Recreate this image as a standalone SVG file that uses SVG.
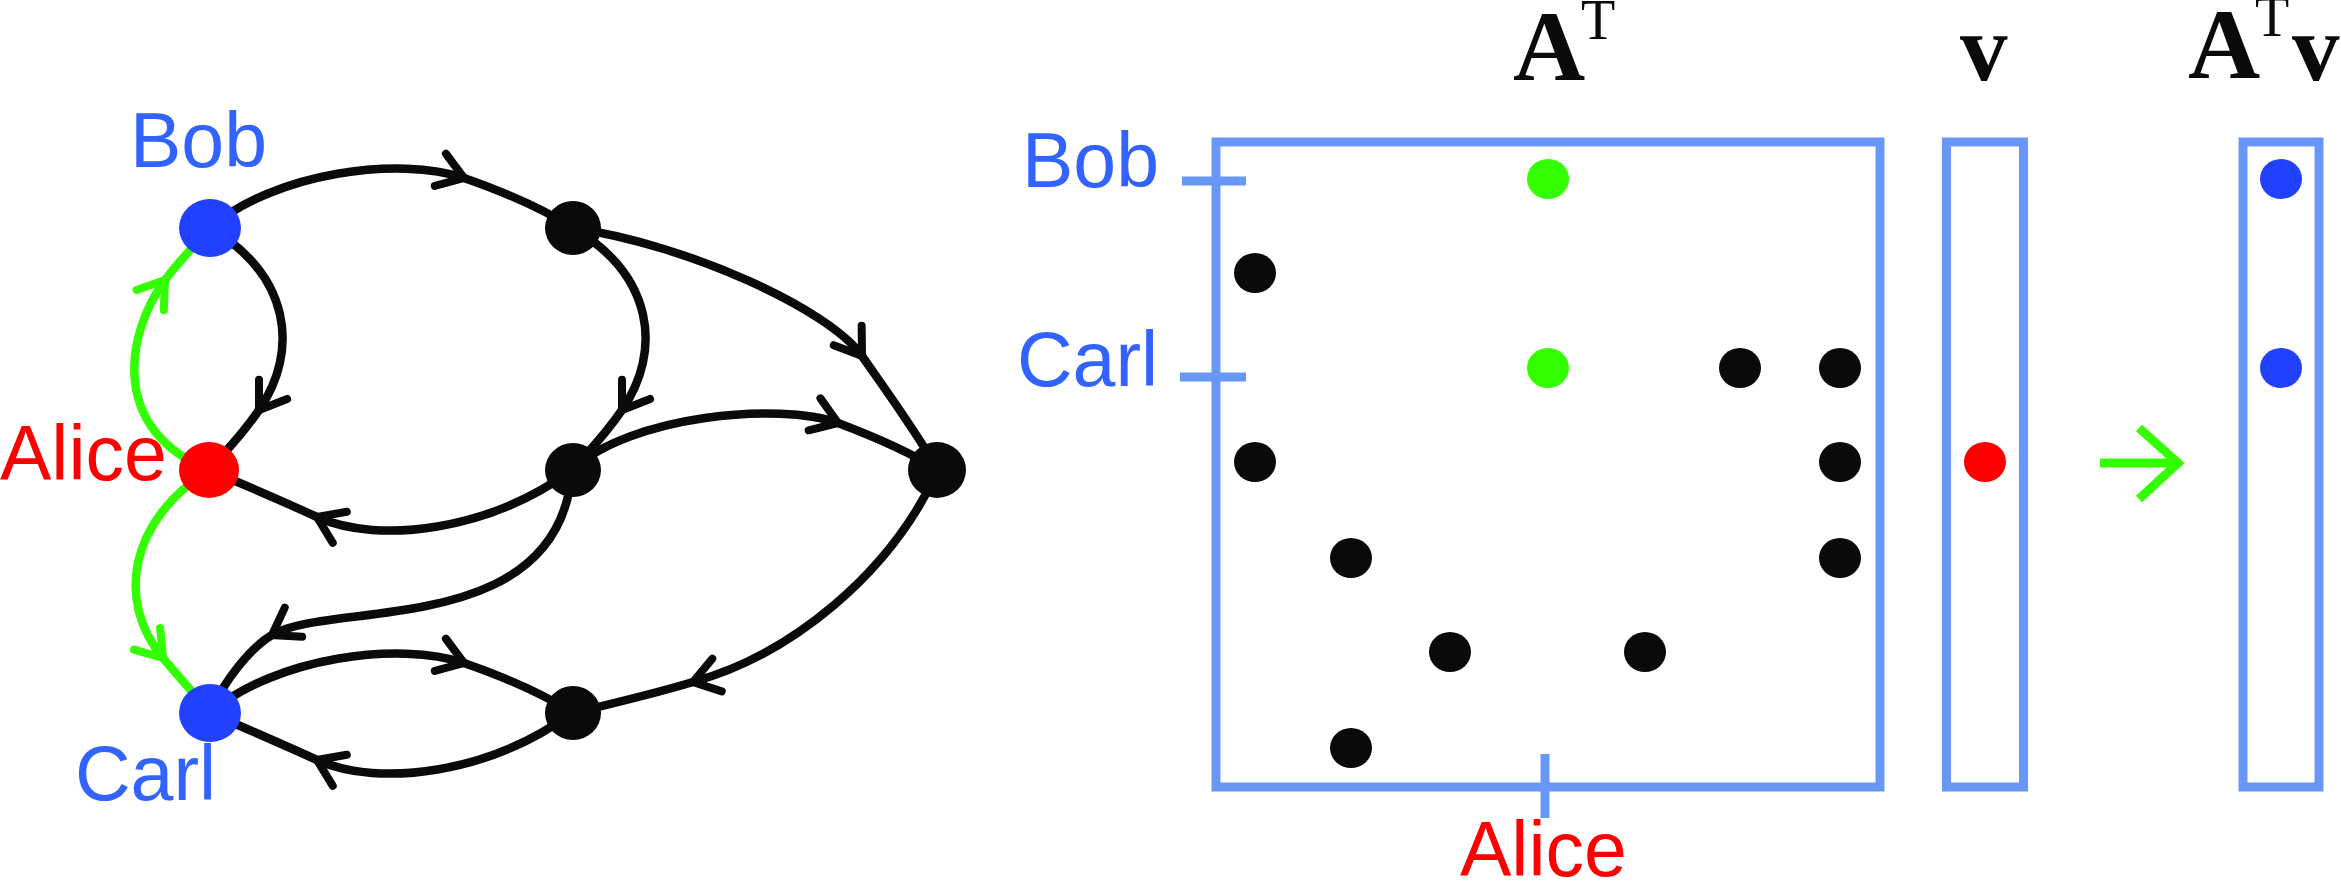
<svg xmlns="http://www.w3.org/2000/svg" width="2341" height="896" viewBox="0 0 2341 896">
<style>
.edge{fill:none;stroke:#0a0a0a;stroke-width:8.5;marker-mid:url(#arrK)}
.gedge{fill:none;stroke:#33ff00;stroke-width:8.5;marker-mid:url(#arrG)}
.lbl{font-family:"Liberation Sans",Arial,Helvetica,sans-serif;font-size:77px}
.blue{fill:#3363ff}
.red{fill:#ff0000}
.math{font-family:"Liberation Serif","Times New Roman",serif;fill:#0a0a0a}
.bold{font-weight:bold}
.box{fill:none;stroke:#6897f8;stroke-width:9}
.tick{stroke:#6897f8;stroke-width:9}
.kdot{fill:#0a0a0a}
.gdot{fill:#33ff00}
.bdot{fill:#2240ff}
.rdot{fill:#ff0000}
</style>
<defs>
<marker id="arrK" markerUnits="userSpaceOnUse" orient="auto" refX="0" refY="0" markerWidth="60" markerHeight="60" viewBox="-30 -30 60 60" overflow="visible">
<path d="M-25,-17 L0,0 L-25,17" fill="none" stroke="#0a0a0a" stroke-width="8" stroke-linecap="round" stroke-linejoin="miter"/>
</marker>
<marker id="arrG" markerUnits="userSpaceOnUse" orient="auto" refX="0" refY="0" markerWidth="60" markerHeight="60" viewBox="-30 -30 60 60" overflow="visible">
<path d="M-25,-17 L0,0 L-25,17" fill="none" stroke="#33ff00" stroke-width="8" stroke-linecap="round" stroke-linejoin="miter"/>
</marker>
</defs>
<rect width="2341" height="896" fill="#ffffff"/>

<g id="connectors">
<path id="e-bob-n1" class="edge" d="M210,228 C275,172 400,156 464,178 C510,194 545,210 573,228"/>
<path id="e-bob-alice" class="edge" d="M210,228 C290,275 300,350 259,410 C240,438 222,455 209,470"/>
<path id="e-alice-bob" class="gedge" d="M209,470 C110,430 125,335 165,280 C180,260 195,245 210,228"/>
<path id="e-n1-n2" class="edge" d="M573,228 C653,275 663,350 622,410 C603,438 585,455 572,470"/>
<path id="e-n1-n3" class="edge" d="M573,228 C690,245 830,310 862,356 C885,389 915,430 938,470"/>
<path id="e-n2-n3" class="edge" d="M572,470 C630,415 780,402 838,423 C875,437 910,452 938,470"/>
<path id="e-n2-alice" class="edge" d="M572,470 C490,530 380,545 317,517 C280,500 245,485 209,470"/>
<path id="e-n2-carl" class="edge" d="M572,470 C560,640 330,600 272,635 C250,648 225,680 210,712"/>
<path id="e-carl-n4" class="edge" d="M210,713 C275,657 400,641 464,663 C510,679 545,695 573,713"/>
<path id="e-n4-carl" class="edge" d="M572,713 C490,773 380,788 317,760 C280,743 245,728 210,713"/>
<path id="e-n3-n4" class="edge" d="M938,470 C890,575 790,655 693,682 C660,692 615,703 573,713"/>
<path id="e-alice-carl" class="gedge" d="M209,470 C130,520 115,600 163,658 C178,676 195,695 210,712"/>
</g>

<g id="node-bob">
<ellipse cx="210" cy="228" rx="31" ry="29" class="bdot"/>
<text class="lbl blue" x="130" y="167">Bob</text>
</g>
<g id="node-alice">
<ellipse cx="209" cy="470" rx="30" ry="28" class="rdot"/>
<text class="lbl red" x="0" y="480">Alice</text>
</g>
<g id="node-carl">
<ellipse cx="210" cy="713" rx="31" ry="29" class="bdot"/>
<text class="lbl blue" x="75" y="800">Carl</text>
</g>
<g id="node-n1"><ellipse cx="573" cy="228" rx="28" ry="27" class="kdot"/></g>
<g id="node-n2"><ellipse cx="573" cy="470" rx="28" ry="27" class="kdot"/></g>
<g id="node-n3"><ellipse cx="937" cy="470" rx="29" ry="28" class="kdot"/></g>
<g id="node-n4"><ellipse cx="573" cy="713" rx="28" ry="27" class="kdot"/></g>

<g id="matrix-AT">
<text class="math bold" x="1513" y="80" font-size="100">A</text>
<text class="math" x="1581" y="39" font-size="56">T</text>
<rect class="box" x="1216" y="142" width="664" height="645"/>
<line class="tick" x1="1182" y1="181" x2="1246" y2="181"/>
<line class="tick" x1="1180" y1="377" x2="1246" y2="377"/>
<line class="tick" x1="1545" y1="754" x2="1545" y2="818"/>
<text class="lbl blue" x="1022" y="187">Bob</text>
<text class="lbl blue" x="1017" y="386">Carl</text>
<text class="lbl red" x="1460" y="876">Alice</text>
<ellipse class="gdot" cx="1548" cy="179" rx="21" ry="20"/>
<ellipse class="gdot" cx="1548" cy="368" rx="21" ry="20"/>
<ellipse class="kdot" cx="1255" cy="273" rx="21" ry="20"/>
<ellipse class="kdot" cx="1740" cy="368" rx="21" ry="20"/>
<ellipse class="kdot" cx="1840" cy="368" rx="21" ry="20"/>
<ellipse class="kdot" cx="1255" cy="462" rx="21" ry="20"/>
<ellipse class="kdot" cx="1840" cy="462" rx="21" ry="20"/>
<ellipse class="kdot" cx="1351" cy="558" rx="21" ry="20"/>
<ellipse class="kdot" cx="1840" cy="558" rx="21" ry="20"/>
<ellipse class="kdot" cx="1450" cy="652" rx="21" ry="20"/>
<ellipse class="kdot" cx="1645" cy="652" rx="21" ry="20"/>
<ellipse class="kdot" cx="1351" cy="748" rx="21" ry="20"/>
</g>

<g id="vector-v">
<text class="math bold" x="1960" y="80" font-size="95">v</text>
<rect class="box" x="1946.5" y="142" width="77" height="645"/>
<ellipse class="rdot" cx="1985" cy="462" rx="21" ry="20"/>
</g>

<g id="result-arrow">
<line x1="2100" y1="463" x2="2172" y2="463" stroke="#33ff00" stroke-width="9"/>
<path d="M2139,428 L2178,463 L2139,499" fill="none" stroke="#33ff00" stroke-width="9"/>
</g>

<g id="vector-ATv">
<text class="math bold" x="2188" y="78" font-size="100">A</text>
<text class="math" x="2255" y="36" font-size="56">T</text>
<text class="math bold" x="2292" y="80" font-size="95">v</text>
<rect class="box" x="2243" y="142" width="76" height="645"/>
<ellipse class="bdot" cx="2281" cy="179" rx="21" ry="20"/>
<ellipse class="bdot" cx="2281" cy="368" rx="21" ry="20"/>
</g>
</svg>
